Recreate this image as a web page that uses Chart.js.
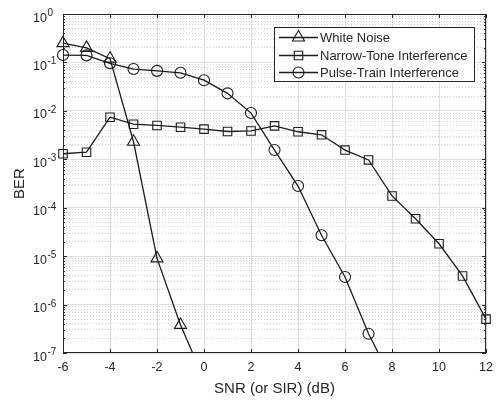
<!DOCTYPE html>
<html>
<head>
<meta charset="utf-8">
<title>BER vs SNR</title>
<style>
  html, body { margin: 0; padding: 0; background: #fff; }
  canvas { display: block; }
</style>
<script src="https://cdn.jsdelivr.net/npm/chart.js@4/dist/chart.umd.min.js"></script>
</head>
<body>
<canvas id="ber-chart" width="500" height="401"></canvas>
<script>
// --- Data ---
const whiteNoiseSnr = [-6, -5, -4, -3, -2, -1, 0];
const whiteNoiseBer = [0.25, 0.2, 0.12, 0.0023, 9e-6, 3.8e-7, 2.9e-8];

const narrowToneSnr = [-6, -5, -4, -3, -2, -1, 0, 1, 2, 3, 4, 5, 6, 7, 8, 9, 10, 11, 12];
const narrowToneBer = [1.3e-3, 1.4e-3, 7.4e-3, 5.3e-3, 5.0e-3, 4.6e-3, 4.2e-3, 3.75e-3, 3.85e-3,
                       4.9e-3, 3.7e-3, 3.2e-3, 1.55e-3, 9.7e-4, 1.75e-4, 5.9e-5, 1.8e-5, 3.9e-6, 5e-7];

const pulseTrainSnr = [-6, -5, -4, -3, -2, -1, 0, 1, 2, 3, 4, 5, 6, 7, 8];
const pulseTrainBer = [0.142, 0.14, 0.096, 0.073, 0.067, 0.061, 0.043, 0.023, 0.009,
                       1.55e-3, 2.8e-4, 2.7e-5, 3.7e-6, 2.5e-7, 2.8e-8];

const seriesNames = ['White Noise', 'Narrow-Tone Interference', 'Pulse-Train Interference'];
const xTickValues = [-6, -4, -2, 0, 2, 4, 6, 8, 10, 12];
const yTickExponents = [-7, -6, -5, -4, -3, -2, -1, 0];

// --- Styles ---
const FONT = "'Liberation Sans', Arial, Helvetica, sans-serif";
const TEXT = '#262626';
const LINE = '#1c1c1c';
const markers = [
    { style: 'triangle', radius: 7 },
    { style: 'rect', radius: 6 },
    { style: 'circle', radius: 5.5 }
];

Chart.defaults.font.family = FONT;
Chart.defaults.color = TEXT;

function toPoints(xs, ys) {
    return xs.map((x, i) => ({ x: x, y: ys[i] }));
}

function makeDataset(i, xs, ys) {
    return {
        label: seriesNames[i],
        data: toPoints(xs, ys),
        borderColor: LINE,
        borderWidth: 1.3,
        pointStyle: markers[i].style,
        pointRadius: markers[i].radius,
        pointBorderColor: LINE,
        pointBorderWidth: 1.1,
        pointBackgroundColor: 'rgba(0,0,0,0)',
        tension: 0,
        clip: { left: 10, right: 10, top: 10, bottom: 0 }
    };
}

// marker path for the hand-drawn legend
function drawMarker(ctx, style, r, x, y) {
    ctx.beginPath();
    if (style === 'triangle') {
        ctx.moveTo(x, y - r);
        ctx.lineTo(x + r * Math.sin(Math.PI * 2 / 3), y + r / 2);
        ctx.lineTo(x - r * Math.sin(Math.PI * 2 / 3), y + r / 2);
        ctx.closePath();
    } else if (style === 'rect') {
        const s = r * Math.SQRT1_2;
        ctx.rect(x - s, y - s, 2 * s, 2 * s);
    } else {
        ctx.arc(x, y, r, 0, Math.PI * 2);
    }
    ctx.stroke();
}

// frame, inward ticks, superscript y labels, MATLAB-like legend
const matlabLook = {
    id: 'matlabLook',
    afterDraw(chart) {
        const { ctx, chartArea: a, scales } = chart;
        const xs = scales.x, ys = scales.y;
        ctx.save();

        // box
        ctx.strokeStyle = TEXT;
        ctx.lineWidth = 1;
        ctx.strokeRect(a.left + 0.5, a.top + 0.5, a.right - a.left - 1, a.bottom - a.top - 1);

        // inward ticks
        ctx.beginPath();
        xTickValues.forEach(v => {
            const px = Math.round(xs.getPixelForValue(v)) + 0.5;
            ctx.moveTo(px, a.bottom); ctx.lineTo(px, a.bottom - 4);
            ctx.moveTo(px, a.top); ctx.lineTo(px, a.top + 4);
        });
        ys.ticks.forEach(t => {
            const py = Math.round(ys.getPixelForValue(t.value)) + 0.5;
            const len = t.major ? 4 : 2;
            ctx.moveTo(a.left, py); ctx.lineTo(a.left + len, py);
            ctx.moveTo(a.right, py); ctx.lineTo(a.right - len, py);
        });
        ctx.stroke();

        // y tick labels 10^n
        ctx.fillStyle = TEXT;
        ctx.textBaseline = 'alphabetic';
        yTickExponents.forEach(e => {
            const py = ys.getPixelForValue(Math.pow(10, e));
            ctx.font = '12.5px ' + FONT;
            ctx.textAlign = 'right';
            ctx.fillText('10', 47, py + 7.5);
            ctx.font = '10px ' + FONT;
            ctx.textAlign = 'left';
            ctx.fillText(e === 0 ? '0' : '-' + Math.abs(e), 47.5, py + 2);
        });

        // legend
        const lx = 274, ly = 27, lw = 200, lh = 54;
        ctx.fillStyle = '#fff';
        ctx.fillRect(lx, ly, lw, lh);
        ctx.strokeStyle = TEXT;
        ctx.strokeRect(lx + 0.5, ly + 0.5, lw, lh);
        const rows = [37, 55, 72];
        ctx.font = '13px ' + FONT;
        ctx.textAlign = 'left';
        ctx.textBaseline = 'middle';
        seriesNames.forEach((name, i) => {
            const ry = rows[i] + 0.5;
            ctx.strokeStyle = LINE;
            ctx.lineWidth = 1.3;
            ctx.beginPath();
            ctx.moveTo(279, ry); ctx.lineTo(318, ry);
            ctx.stroke();
            ctx.lineWidth = 1.1;
            drawMarker(ctx, markers[i].style, markers[i].radius, 298.5, ry);
            ctx.fillStyle = TEXT;
            ctx.fillText(name, 320, ry + 0.5);
        });

        ctx.restore();
    }
};

const chart = new Chart(document.getElementById('ber-chart'), {
    type: 'line',
    data: {
        datasets: [
            makeDataset(0, whiteNoiseSnr, whiteNoiseBer),
            makeDataset(1, narrowToneSnr, narrowToneBer),
            makeDataset(2, pulseTrainSnr, pulseTrainBer)
        ]
    },
    options: {
        responsive: false,
        animation: false,
        devicePixelRatio: 1,
        layout: { padding: { top: 14, right: 13, left: 0, bottom: 0 } },
        plugins: {
            legend: { display: false },
            tooltip: { enabled: false }
        },
        scales: {
            x: {
                type: 'linear',
                min: -6,
                max: 12,
                afterBuildTicks: axis => {
                    axis.ticks = xTickValues.map(v => ({ value: v }));
                },
                afterFit: axis => { axis.height = 48; },
                ticks: {
                    color: TEXT,
                    font: { size: 12.5 },
                    padding: 7,
                    maxRotation: 0
                },
                grid: { color: '#dedede', lineWidth: 1, drawTicks: false },
                border: { display: false },
                title: {
                    display: true,
                    text: 'SNR (or SIR) (dB)',
                    color: TEXT,
                    font: { size: 15 },
                    padding: { top: 0, bottom: 3 }
                }
            },
            y: {
                type: 'logarithmic',
                min: 1e-7,
                max: 1,
                afterBuildTicks: axis => {
                    const ticks = [];
                    yTickExponents.forEach(e => {
                        for (let m = 1; m <= 9; m++) {
                            if (e === 0 && m > 1) break;
                            ticks.push({ value: m * Math.pow(10, e), major: m === 1 });
                        }
                    });
                    axis.ticks = ticks;
                },
                afterFit: axis => { axis.width = 63; },
                ticks: { display: false, autoSkip: false },
                grid: {
                    drawTicks: false,
                    lineWidth: 1,
                    color: c => (c.tick && c.tick.major) ? '#dedede' : '#d2d2d2'
                },
                border: {
                    display: false,
                    dash: c => (c.tick && c.tick.major) ? [] : [1, 2]
                },
                title: {
                    display: true,
                    text: 'BER',
                    color: TEXT,
                    font: { size: 15 },
                    padding: { top: 11, bottom: 0 }
                }
            }
        }
    },
    plugins: [matlabLook]
});
</script>
</body>
</html>
